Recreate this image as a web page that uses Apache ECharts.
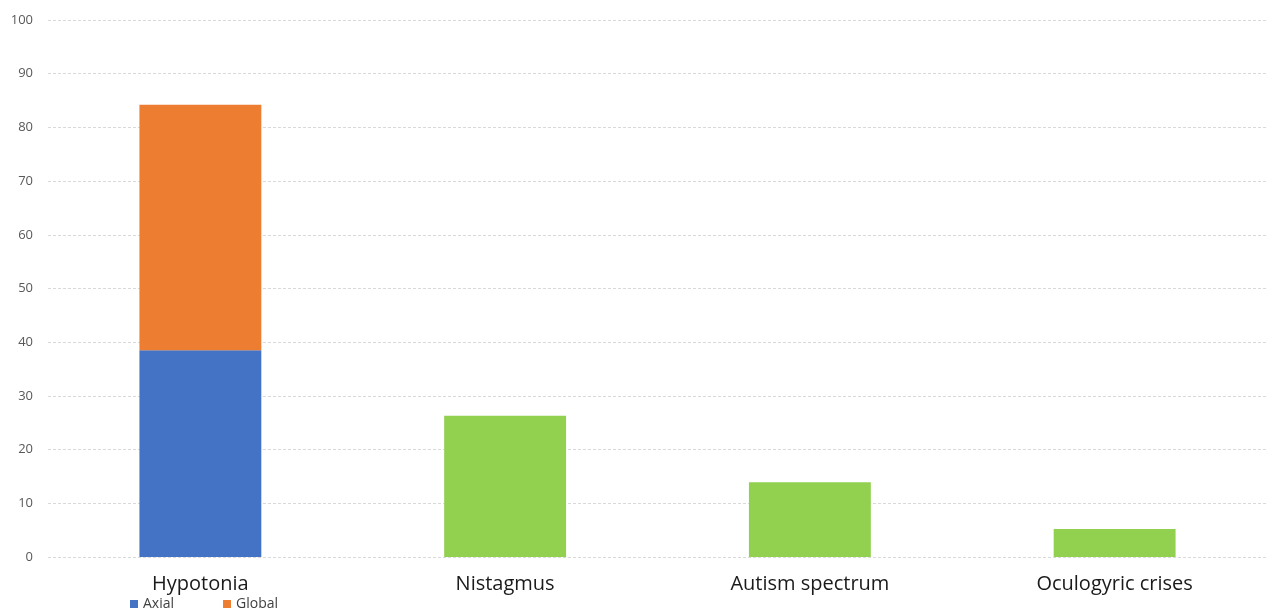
<!DOCTYPE html>
<html>
<head>
<meta charset="utf-8">
<script src="https://cdn.jsdelivr.net/npm/echarts@6/dist/echarts.min.js"></script>
<style>
  html, body { margin: 0; padding: 0; background: #fff; }
  #chart { width: 1270px; height: 612px; }
</style>
</head>
<body>
<div id="chart"></div>
<script>
// Clinical features (% of patients)
const categories = ['Hypotonia', 'Nistagmus', 'Autism spectrum', 'Oculogyric crises'];
const axialValues = [38.5, '-', '-', '-'];
const globalValues = [45.7, '-', '-', '-'];
const otherValues = ['-', 26.3, 13.9, 5.2];
const yTicks = { min: 0, max: 100, interval: 10 };

const chart = echarts.init(document.getElementById('chart'));
chart.setOption({
  animation: false,
  textStyle: { fontFamily: 'Open Sans, Noto Sans, sans-serif' },
  grid: { left: 48, right: 3, top: 20, bottom: 55, containLabel: false },
  legend: {
    data: ['Axial', 'Global'],
    left: 125, top: 592,
    itemWidth: 8, itemHeight: 8, itemGap: 49,
    icon: 'rect',
    textStyle: { fontSize: 14, color: '#404040', padding: [0, 0, 0, 0] }
  },
  xAxis: {
    type: 'category',
    data: categories,
    axisLine: { show: false },
    axisTick: { show: false },
    axisLabel: { fontSize: 20, color: '#1a1a1a', margin: 17 }
  },
  yAxis: {
    type: 'value',
    min: yTicks.min, max: yTicks.max, interval: yTicks.interval,
    axisLine: { show: false },
    axisTick: { show: false },
    axisLabel: { fontSize: 13, color: '#595959', margin: 15 },
    splitLine: { lineStyle: { color: '#d9d9d9', type: [3, 2] } }
  },
  series: [
    { name: 'Axial', type: 'bar', stack: 'total', barWidth: '40%',
      itemStyle: { color: '#4472C4' }, data: axialValues },
    { name: 'Global', type: 'bar', stack: 'total',
      itemStyle: { color: '#ED7D31' }, data: globalValues },
    { name: 'Total', type: 'bar', stack: 'total',
      itemStyle: { color: '#92D050' }, data: otherValues }
  ]
});
</script>
</body>
</html>
